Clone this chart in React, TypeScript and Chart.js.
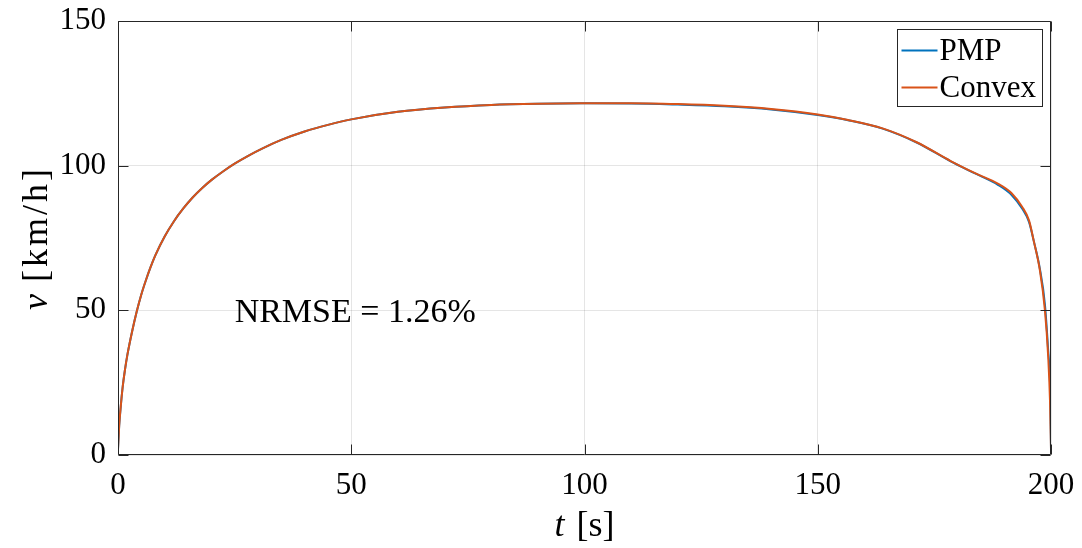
import React, { useEffect, useRef } from "react";
import { Chart, registerables } from "chart.js";

Chart.register(...registerables);

const times = [0, 0.25, 0.6, 1, 1.5, 2, 3, 4, 5, 6, 7, 8, 10, 12, 14, 16, 18, 20, 22.5, 25, 28, 31, 35, 40, 45, 50, 60, 70, 80, 90, 100, 110, 120, 130, 140, 150, 156.5, 163.9, 171.2, 178.5, 183.6, 188.7, 191.6, 193.8, 195.3, 196.3, 197.6, 198.7, 199.4, 199.8, 200];
const convexSpeed = [2, 10, 17, 23.5, 29.5, 34.5, 42.5, 49.5, 55.5, 60.5, 65, 69, 75.5, 80.8, 85.2, 89, 92.2, 95, 98, 100.7, 103.5, 106, 108.9, 111.8, 114.1, 116, 118.6, 120.1, 121, 121.4, 121.55, 121.6, 121.3, 120.7, 119.6, 117.7, 115.8, 112.9, 108.1, 101.6, 97.5, 93.7, 90.4, 85.8, 81, 74, 64, 50, 34, 18, 2];
const pmpSpeed = [2, 10, 17, 23.5, 29.5, 34.5, 42.5, 49.5, 55.5, 60.5, 65, 69, 75.5, 80.8, 85.2, 89, 92.2, 95, 98, 100.7, 103.5, 106, 108.9, 111.8, 114.1, 116, 118.6, 120.1, 121, 121.4, 121.55, 121.5, 121.1, 120.5, 119.4, 117.5, 115.7, 112.8, 108, 101.5, 97.4, 93.3, 89.8, 85.2, 80.5, 74, 64.5, 52, 36, 24, 2];

const seriesNames = ["PMP", "Convex"];
const seriesColors = ["#0072BD", "#D95319"];
const xTicks = [0, 50, 100, 150, 200];
const yTicks = [0, 50, 100, 150];
const annotationText = "NRMSE = 1.26%";
const annotationPos = [25, 49];

const SERIF = '"Liberation Serif", "Times New Roman", serif';
const AXIS_COLOR = "#262626";

const decorPlugin = {
  id: "decor",
  afterDraw(chart: any) {
    const { ctx, chartArea } = chart;
    const { left, right, top, bottom } = chartArea;
    const xs = chart.scales.x;
    const ys = chart.scales.y;
    const L = Math.round(left) + 0.5;
    const R = Math.round(right) - 0.5;
    const T = Math.round(top) + 0.5;
    const B = Math.round(bottom) - 0.5;
    ctx.save();
    ctx.strokeStyle = AXIS_COLOR;
    ctx.lineWidth = 1;
    ctx.beginPath();
    ctx.rect(L, T, R - L, B - T);
    ctx.stroke();
    const tl = 10;
    ctx.beginPath();
    xTicks.forEach((v) => {
      const px = Math.round(xs.getPixelForValue(v)) + 0.5;
      ctx.moveTo(px, B);
      ctx.lineTo(px, B - tl);
      ctx.moveTo(px, T);
      ctx.lineTo(px, T + tl);
    });
    yTicks.forEach((v) => {
      const py = Math.round(ys.getPixelForValue(v)) + 0.5;
      ctx.moveTo(L, py);
      ctx.lineTo(L + tl, py);
      ctx.moveTo(R, py);
      ctx.lineTo(R - tl, py);
    });
    ctx.stroke();

    ctx.fillStyle = "#000";
    ctx.font = `34px ${SERIF}`;
    ctx.textAlign = "left";
    ctx.textBaseline = "middle";
    ctx.fillText(annotationText, xs.getPixelForValue(annotationPos[0]), ys.getPixelForValue(annotationPos[1]));

    const bx = Math.round(right) - 153.5;
    const by = Math.round(top) + 8.5;
    const bw = 145;
    const bh = 77;
    ctx.fillStyle = "#fff";
    ctx.fillRect(bx, by, bw, bh);
    ctx.strokeStyle = AXIS_COLOR;
    ctx.strokeRect(bx, by, bw, bh);
    ctx.font = `31px ${SERIF}`;
    ctx.textBaseline = "middle";
    seriesNames.forEach((name, i) => {
      const ly = by + 21 + i * 37;
      ctx.strokeStyle = seriesColors[i];
      ctx.lineWidth = 2;
      ctx.beginPath();
      ctx.moveTo(bx + 4, ly);
      ctx.lineTo(bx + 40, ly);
      ctx.stroke();
      ctx.fillStyle = "#000";
      ctx.fillText(name, bx + 42, ly + 1);
    });

    const drawTitle = (italic: string, rest: string, cx: number, cy: number, rot: number, spacing: number) => {
      ctx.save();
      ctx.translate(cx, cy);
      ctx.rotate(rot);
      ctx.fillStyle = "#000";
      ctx.textBaseline = "middle";
      ctx.textAlign = "left";
      ctx.font = `italic 36px ${SERIF}`;
      (ctx as any).letterSpacing = "0px";
      const w1 = ctx.measureText(italic).width;
      ctx.font = `36px ${SERIF}`;
      (ctx as any).letterSpacing = `${spacing}px`;
      const gap = 12;
      const w2 = ctx.measureText(rest).width;
      const total = w1 + gap + w2;
      ctx.font = `italic 36px ${SERIF}`;
      (ctx as any).letterSpacing = "0px";
      ctx.fillText(italic, -total / 2, 0);
      ctx.font = `36px ${SERIF}`;
      (ctx as any).letterSpacing = `${spacing}px`;
      ctx.fillText(rest, -total / 2 + w1 + gap, 0);
      ctx.restore();
    };
    drawTitle("t", "[s]", (left + right) / 2, 527, 0, 0);
    drawTitle("v", "[km/h]", 38, (top + bottom) / 2, -Math.PI / 2, 3);
    ctx.restore();
  },
};

export default function App() {
  const ref = useRef<HTMLCanvasElement | null>(null);
  useEffect(() => {
    if (!ref.current) return;
    const mk = (vals: number[]) => times.map((t, i) => ({ x: t, y: vals[i] }));
    const chart = new Chart(ref.current, {
      type: "line",
      data: {
        datasets: [
          { label: seriesNames[0], data: mk(pmpSpeed), borderColor: seriesColors[0], borderWidth: 2, pointRadius: 0, cubicInterpolationMode: "monotone", order: 1 },
          { label: seriesNames[1], data: mk(convexSpeed), borderColor: seriesColors[1], borderWidth: 2, pointRadius: 0, cubicInterpolationMode: "monotone", order: 0 },
        ],
      },
      options: {
        responsive: false,
        animation: false,
        layout: { padding: { top: 21, right: 31, left: 0, bottom: 0 } },
        plugins: { legend: { display: false }, tooltip: { enabled: false } },
        scales: {
          x: {
            type: "linear",
            min: 0,
            max: 200,
            afterBuildTicks: (s: any) => { s.ticks = xTicks.map((v) => ({ value: v })); },
            afterFit: (s: any) => { s.height = 93; s.paddingLeft = 0; s.paddingRight = 0; s.paddingTop = 0; s.paddingBottom = 0; },
            grid: { color: "rgba(38,38,38,0.12)", drawTicks: false },
            border: { display: false },
            ticks: { padding: 12, color: "#000", font: { family: SERIF, size: 31 }, maxRotation: 0 },
          },
          y: {
            type: "linear",
            min: 0,
            max: 150,
            afterBuildTicks: (s: any) => { s.ticks = yTicks.map((v) => ({ value: v })); },
            afterFit: (s: any) => { s.width = 118; s.paddingLeft = 0; s.paddingRight = 0; s.paddingTop = 0; s.paddingBottom = 0; },
            grid: { color: "rgba(38,38,38,0.12)", drawTicks: false },
            border: { display: false },
            ticks: { padding: 12, color: "#000", font: { family: SERIF, size: 31 } },
          },
        },
      },
      plugins: [decorPlugin],
    } as any);
    return () => chart.destroy();
  }, []);
  return (
    <div style={{ position: "absolute", left: 0, top: 0, width: 1082, height: 548, background: "#fff" }}>
      <canvas ref={ref} width={1082} height={548} />
    </div>
  );
}
